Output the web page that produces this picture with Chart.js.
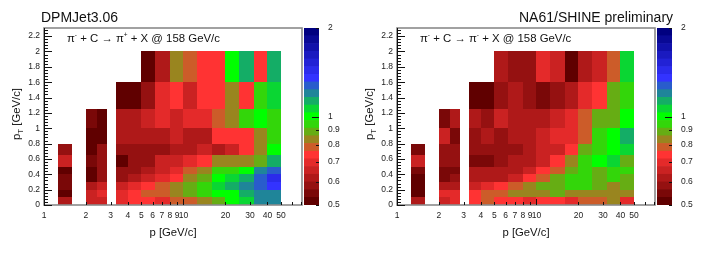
<!DOCTYPE html>
<html>
<head>
<meta charset="utf-8">
<script src="https://cdn.jsdelivr.net/npm/chart.js@4"></script>
<style>
  html, body { margin: 0; padding: 0; background: #fff; overflow: hidden; }
  body { width: 706px; height: 258px; position: relative; font-family: "Liberation Sans", sans-serif; color: #111; }
  canvas { position: absolute; top: 0; }
  .txt { position: absolute; white-space: nowrap; line-height: 1; }
  .title { font-size: 14px; top: 10px; }
  .note { font-size: 11.4px; top: 33px; }
  .note sup { font-size: 6.5px; line-height: 0; }
  .ytitle { font-size: 11.3px; transform-origin: left top; transform: rotate(-90deg); top: 140px; }
  .ytitle sub { font-size: 8px; line-height: 0; }
</style>
</head>
<body>
<canvas id="leftMap" width="303" height="258" style="left:0"></canvas>
<canvas id="leftBar" width="46" height="258" style="left:304px"></canvas>
<canvas id="rightMap" width="303" height="258" style="left:353px"></canvas>
<canvas id="rightBar" width="46" height="258" style="left:657px"></canvas>

<div class="txt title" style="left:41px">DPMJet3.06</div>
<div class="txt title" style="left:519px">NA61/SHINE preliminary</div>
<div class="txt note" style="left:67px">&pi;<sup>-</sup> + C &rarr; &pi;<sup>+</sup> + X @ 158 GeV/c</div>
<div class="txt note" style="left:420px">&pi;<sup>-</sup> + C &rarr; &pi;<sup>-</sup> + X @ 158 GeV/c</div>
<div class="txt ytitle" style="left:11px">p<sub>T</sub> [GeV/c]</div>
<div class="txt ytitle" style="left:364px">p<sub>T</sub> [GeV/c]</div>

<script>
// bin edges
const pLow = [1.25, 2, 2.4, 3.3, 4, 5, 6.3, 8, 10, 12.6, 16, 20, 25, 32, 40];
const pHigh = [1.6, 2.4, 2.85, 4, 5, 6.3, 8, 10, 12.6, 16, 20, 25, 32, 40, 50];
const ptEdges = [0, 0.1, 0.2, 0.3, 0.4, 0.5, 0.65, 0.8, 1, 1.25, 1.6, 2];

// ratio per cell, one row per pT bin, bottom row first
const dpmjetRatio = [
  [.62, .66, .66, .70, .74, .74, .70, .79, .79, .83, .89, 1, 1.06, 1.2, 1.2],
  [.52, .66, .70, .70, .74, .79, .79, .83, .89, .94, 1, 1, 1.13, 1.2, 1.2],
  [.55, .62, .66, .66, .70, .74, .79, .83, .89, .94, 1.06, 1.13, 1.2, 1.27, 1.35],
  [.55, .52, .58, .58, .62, .66, .70, .74, .83, .89, 1, 1.06, 1.13, 1.27, 1.43],
  [.52, .52, .58, .58, .58, .62, .66, .70, .79, .83, .94, .94, 1, 1.2, 1.27],
  [.66, .55, .58, .52, .58, .58, .66, .66, .70, .74, .83, .83, .83, .89, 1.13],
  [.58, .52, .58, .58, .58, .58, .58, .62, .62, .66, .62, .66, .74, .83, 1],
  [null, .52, .52, .62, .62, .62, .62, .66, .62, .62, .74, .74, .74, .83, .94],
  [null, .55, .52, .62, .62, .66, .70, .66, .70, .70, .79, .83, .94, 1, .94],
  [null, null, null, .52, .52, .58, .70, .74, .66, .74, .74, .83, .74, .94, 1.06],
  [null, null, null, null, null, .52, .62, .83, .79, .74, .74, 1, 1.13, .74, 1.13],
];
const na61Ratio = [
  [.62, .66, .70, .74, .79, .74, .74, .70, .74, .74, .70, .79, .79, .83, .70],
  [.52, .70, .70, .74, .79, .79, .83, .83, .83, .89, .83, .83, .83, .83, .83],
  [.52, .62, .62, .66, .70, .74, .79, .83, .89, .89, .94, .94, .89, .83, .89],
  [.52, .55, .58, .62, .62, .62, .66, .74, .79, .89, .94, .94, .89, .94, .89],
  [.55, .55, .55, .62, .62, .62, .62, .66, .74, .79, .89, .94, .89, .94, .94],
  [.66, .58, .58, .55, .55, .58, .62, .62, .66, .74, .83, .94, 1, 1.06, .89],
  [.55, .58, .58, .58, .58, .58, .58, .62, .66, .66, .74, .89, .94, 1, 1.06],
  [null, .66, .55, .58, .62, .58, .62, .62, .66, .70, .70, .79, .94, 1, 1.13],
  [null, .55, .62, .62, .58, .66, .62, .62, .62, .66, .70, .79, .89, .89, 1],
  [null, null, null, .52, .52, .58, .62, .58, .55, .58, .62, .70, .74, .89, .94],
  [null, null, null, null, null, .62, .58, .58, .70, .66, .52, .62, .66, .79, 1.06],
];

// colour bar
const zEdges = [.5, .531, .564, .599, .636, .676, .718, .762, .81, .86, .913, .97, 1.03, 1.094, 1.162, 1.234, 1.311, 1.392, 1.478, 1.57, 1.667, 1.771, 1.883, 2];
const zColors = [
  "#600000", "#7a0808", "#951111", "#af1919", "#ca2222", "#e42a2a", "#ff3333",
  "#cc5c29", "#99851f", "#66ad14", "#33d60a", "#00ff00",
  "#0ad633", "#14ad66", "#1f8599", "#295ccc", "#3333ff",
  "#2b2beb", "#2222d5", "#1a1ac0", "#1111aa", "#090995", "#000080",
];
const zTicks = [0.5, 0.6, 0.7, 0.8, 0.9, 1, 2];

// axis ticks
const pTicks = [1, 2, 3, 4, 5, 6, 7, 8, 9, 10, 20, 30, 40, 50, 60, 70];
const pTickLabels = [1, 2, 3, 4, 5, 6, 7, 8, 9, 10, 20, 30, 40, 50];
const ptTicks = [0, 0.2, 0.4, 0.6, 0.8, 1, 1.2, 1.4, 1.6, 1.8, 2, 2.2];

const axisFont = { family: "Liberation Sans", size: 8.5 };
const textColor = "#222";

function colorFor(z) {
  let i = 0;
  while (i < zColors.length - 1 && z >= zEdges[i + 1]) i++;
  return zColors[i];
}

function buildCells(rows) {
  const cells = [];
  rows.forEach((row, r) => {
    row.forEach((z, c) => {
      if (z === null) return;
      cells.push({
        x: Math.sqrt(pLow[c] * pHigh[c]),
        y: (ptEdges[r] + ptEdges[r + 1]) / 2,
        x0: pLow[c], x1: pHigh[c],
        y0: ptEdges[r], y1: ptEdges[r + 1],
        z: z,
      });
    });
  });
  return cells;
}

// the cells, frame and inward ticks, all placed through the chart's scales
const heatPlugin = {
  id: "heat",
  afterDatasetsDraw(chart) {
    const { ctx, chartArea: a, scales: { x, y } } = chart;
    ctx.save();
    chart.data.datasets[0].data.forEach(c => {
      const left = Math.round(x.getPixelForValue(c.x0));
      const right = Math.round(x.getPixelForValue(c.x1));
      const top = Math.round(y.getPixelForValue(c.y1));
      const bottom = Math.round(y.getPixelForValue(c.y0));
      ctx.fillStyle = colorFor(c.z);
      ctx.fillRect(left, top, right - left, bottom - top);
    });

    ctx.strokeStyle = "#8a8a8a";
    ctx.lineWidth = 1.6;
    ctx.strokeRect(a.left, a.top, a.right - a.left, a.bottom - a.top);

    ctx.strokeStyle = "#111";
    ctx.lineWidth = 1;
    ctx.beginPath();
    ctx.moveTo(a.left + 0.5, a.top);
    ctx.lineTo(a.left + 0.5, a.bottom);
    pTicks.forEach(v => {
      const px = Math.round(x.getPixelForValue(v)) + 0.5;
      ctx.moveTo(px, a.bottom);
      ctx.lineTo(px, a.bottom - (v === 10 ? 6 : 3));
    });
    for (let i = 0; i <= 57; i++) {
      const py = Math.round(y.getPixelForValue(i * 0.04)) + 0.5;
      ctx.moveTo(a.left, py);
      ctx.lineTo(a.left + (i % 5 === 0 ? 8 : 4), py);
    }
    ctx.stroke();
    ctx.restore();
  },
};

const barTickPlugin = {
  id: "barTicks",
  afterDatasetsDraw(chart) {
    const { ctx, chartArea: a, scales: { y } } = chart;
    ctx.save();
    ctx.strokeStyle = "#111";
    ctx.lineWidth = 1;
    ctx.beginPath();
    zTicks.forEach(v => {
      const py = Math.round(y.getPixelForValue(v)) + 0.5;
      ctx.moveTo(a.right, py);
      ctx.lineTo(a.right - (v === 1 ? 7 : 3), py);
    });
    ctx.stroke();
    ctx.restore();
  },
};

function renderMap(id, rows) {
  new Chart(document.getElementById(id), {
    type: "scatter",
    data: { datasets: [{ data: buildCells(rows), pointRadius: 0 }] },
    plugins: [heatPlugin],
    options: {
      responsive: false,
      animation: false,
      layout: { padding: { top: 28, right: 1, left: 0, bottom: 0 } },
      plugins: { legend: { display: false }, tooltip: { enabled: false } },
      scales: {
        x: {
          type: "logarithmic",
          min: 1,
          max: 70.8,
          grid: { display: false, drawTicks: false },
          border: { display: false },
          afterFit: s => { s.height = 53; s.paddingLeft = 0; s.paddingRight = 0; },
          afterBuildTicks: s => { s.ticks = pTicks.map(v => ({ value: v })); },
          ticks: {
            font: axisFont,
            color: textColor,
            padding: 6,
            autoSkip: false,
            maxRotation: 0,
            callback: v => (pTickLabels.includes(v) ? String(v) : ""),
          },
          title: {
            display: true,
            text: "p [GeV/c]",
            color: "#111",
            font: { family: "Liberation Sans", size: 11.3 },
            padding: { top: 0, bottom: 18 },
          },
        },
        y: {
          min: 0,
          max: 2.306,
          grid: { display: false, drawTicks: false },
          border: { display: false },
          afterFit: s => { s.width = 44; s.paddingTop = 0; s.paddingBottom = 0; },
          afterBuildTicks: s => { s.ticks = ptTicks.map(v => ({ value: v })); },
          ticks: {
            font: axisFont,
            color: textColor,
            padding: 4,
            autoSkip: false,
            callback: v => String(v),
          },
        },
      },
    },
  });
}

function renderColorBar(id) {
  new Chart(document.getElementById(id), {
    type: "bar",
    data: {
      labels: ["z"],
      datasets: zColors.map((color, i) => ({
        data: [[zEdges[i], zEdges[i + 1]]],
        backgroundColor: color,
        borderWidth: 0,
        grouped: false,
        barPercentage: 1,
        categoryPercentage: 1,
      })),
    },
    plugins: [barTickPlugin],
    options: {
      responsive: false,
      animation: false,
      layout: { padding: { top: 28, bottom: 53, left: 0, right: 0 } },
      plugins: { legend: { display: false }, tooltip: { enabled: false } },
      scales: {
        x: { display: false },
        y: {
          type: "logarithmic",
          position: "right",
          min: 0.5,
          max: 2,
          grid: { display: false, drawTicks: false },
          border: { display: false },
          afterFit: s => { s.width = 31; s.paddingTop = 0; s.paddingBottom = 0; },
          afterBuildTicks: s => { s.ticks = zTicks.map(v => ({ value: v })); },
          ticks: {
            font: axisFont,
            color: textColor,
            padding: 9,
            autoSkip: false,
            callback: v => String(v),
          },
        },
      },
    },
  });
}

renderMap("leftMap", dpmjetRatio);
renderMap("rightMap", na61Ratio);
renderColorBar("leftBar");
renderColorBar("rightBar");
</script>
</body>
</html>
